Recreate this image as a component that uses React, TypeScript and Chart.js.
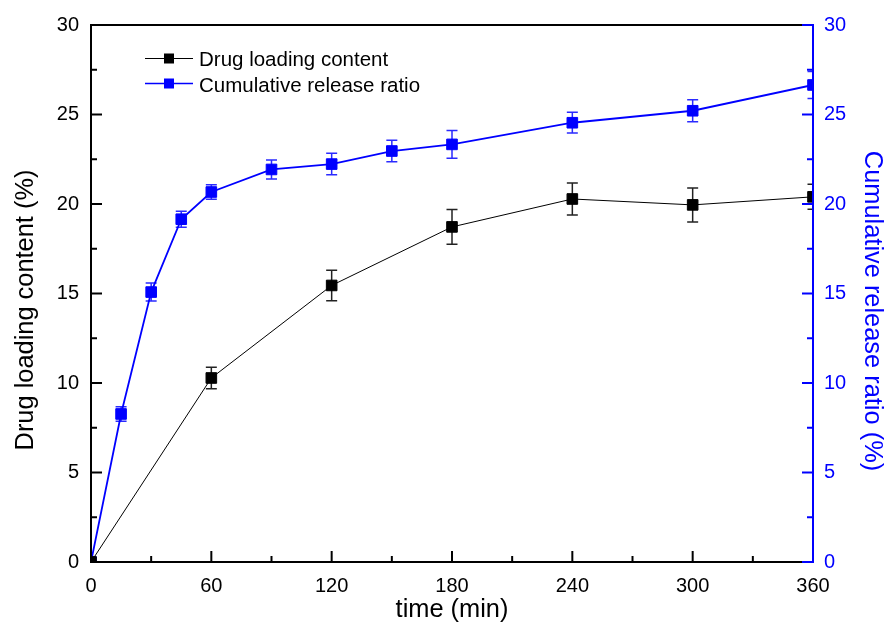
import React, { useEffect, useRef } from "react";
import { Chart, registerables } from "chart.js";

Chart.register(...registerables);

// ---- data ----
const timeDrug = [0, 60, 120, 180, 240, 300, 360];
const drugLoading = [0, 10.28, 15.45, 18.72, 20.28, 19.95, 20.4];
const drugLoadingErr = [0, 0.6, 0.85, 0.97, 0.9, 0.95, 0.7];

const timeRelease = [0, 15, 30, 45, 60, 90, 120, 150, 180, 240, 300, 360];
const releaseRatio = [0, 8.27, 15.08, 19.15, 20.67, 21.93, 22.23, 22.96, 23.33, 24.54, 25.21, 26.65];
const releaseErr = [0, 0.4, 0.5, 0.45, 0.4, 0.53, 0.6, 0.6, 0.77, 0.58, 0.62, 0.75];

const xTickValues = [0, 60, 120, 180, 240, 300, 360];
const xMinorValues = [30, 90, 150, 210, 270, 330];
const yTickValues = [0, 5, 10, 15, 20, 25, 30];
const yMinorValues = [2.5, 7.5, 12.5, 17.5, 22.5, 27.5];

const seriesNames = ["Drug loading content", "Cumulative release ratio"];
const xTitle = "time (min)";
const yTitle = "Drug loading content (%)";
const y1Title = "Cumulative release ratio (%)";

const FONT = "Arial, 'Liberation Sans', sans-serif";
const BLACK = "#000000";
const BLUE = "#0000ff";

const errors: Record<number, number[]> = { 0: drugLoadingErr, 1: releaseErr };

const errorBarPlugin = {
  id: "errorBars",
  beforeDatasetsDraw(chart: any) {
    const ctx = chart.ctx;
    const area = chart.chartArea;
    ctx.save();
    ctx.beginPath();
    ctx.rect(area.left, area.top - 20, area.right - area.left, area.bottom - area.top + 20);
    ctx.clip();
    chart.data.datasets.forEach((ds: any, i: number) => {
      const meta = chart.getDatasetMeta(i);
      const yScale = chart.scales[ds.yAxisID];
      const errs = errors[i];
      ctx.strokeStyle = ds.errorColor;
      ctx.lineWidth = 1.5;
      meta.data.forEach((el: any, j: number) => {
        const e = errs[j];
        if (!e) return;
        const v = ds.data[j].y;
        const top = yScale.getPixelForValue(v + e);
        const bot = yScale.getPixelForValue(v - e);
        const x = el.x;
        const hw = 5.5;
        ctx.beginPath();
        ctx.moveTo(x, top);
        ctx.lineTo(x, bot);
        ctx.moveTo(x - hw, top);
        ctx.lineTo(x + hw, top);
        ctx.moveTo(x - hw, bot);
        ctx.lineTo(x + hw, bot);
        ctx.stroke();
      });
    });
    ctx.restore();
  },
};

const framePlugin = {
  id: "frame",
  afterDraw(chart: any) {
    const ctx = chart.ctx;
    const { left, right, top, bottom } = chart.chartArea;
    const xs = chart.scales.x;
    const ys = chart.scales.y;
    const y1 = chart.scales.y1;
    ctx.save();
    ctx.lineCap = "butt";
    // frame
    ctx.lineWidth = 2;
    ctx.strokeStyle = BLACK;
    ctx.beginPath();
    ctx.moveTo(right, top);
    ctx.lineTo(left, top);
    ctx.lineTo(left, bottom);
    ctx.lineTo(right, bottom);
    ctx.stroke();
    // x ticks (inward, bottom)
    ctx.lineWidth = 2;
    xTickValues.forEach((v) => {
      const px = xs.getPixelForValue(v);
      ctx.beginPath();
      ctx.moveTo(px, bottom);
      ctx.lineTo(px, bottom - 11);
      ctx.stroke();
    });
    xMinorValues.forEach((v) => {
      const px = xs.getPixelForValue(v);
      ctx.beginPath();
      ctx.moveTo(px, bottom);
      ctx.lineTo(px, bottom - 6);
      ctx.stroke();
    });
    // left y ticks
    yTickValues.forEach((v) => {
      const py = ys.getPixelForValue(v);
      ctx.beginPath();
      ctx.moveTo(left, py);
      ctx.lineTo(left + 11, py);
      ctx.stroke();
    });
    yMinorValues.forEach((v) => {
      const py = ys.getPixelForValue(v);
      ctx.beginPath();
      ctx.moveTo(left, py);
      ctx.lineTo(left + 6, py);
      ctx.stroke();
    });
    // right axis (blue)
    ctx.strokeStyle = BLUE;
    ctx.beginPath();
    ctx.moveTo(right, top - 1);
    ctx.lineTo(right, bottom + 1);
    ctx.stroke();
    yTickValues.forEach((v) => {
      const py = y1.getPixelForValue(v);
      ctx.beginPath();
      ctx.moveTo(right, py);
      ctx.lineTo(right - 11, py);
      ctx.stroke();
    });
    yMinorValues.forEach((v) => {
      const py = y1.getPixelForValue(v);
      ctx.beginPath();
      ctx.moveTo(right, py);
      ctx.lineTo(right - 6, py);
      ctx.stroke();
    });

    // axis titles
    ctx.font = `25.4px ${FONT}`;
    ctx.textBaseline = "alphabetic";
    ctx.fillStyle = BLACK;
    ctx.textAlign = "center";
    ctx.fillText(xTitle, (left + right) / 2, 617);

    ctx.save();
    ctx.translate(33, 310);
    ctx.rotate(-Math.PI / 2);
    ctx.fillText(yTitle, 0, 0);
    ctx.restore();

    ctx.save();
    ctx.fillStyle = BLUE;
    ctx.translate(865, 311);
    ctx.rotate(Math.PI / 2);
    ctx.fillText(y1Title, 0, 0);
    ctx.restore();

    // legend
    const rows = [
      { name: seriesNames[0], color: BLACK, lw: 1, y: 58.5, base: 66 },
      { name: seriesNames[1], color: BLUE, lw: 1.5, y: 83.5, base: 91.5 },
    ];
    rows.forEach((r) => {
      ctx.strokeStyle = r.color;
      ctx.lineWidth = r.lw;
      ctx.beginPath();
      ctx.moveTo(145, r.y);
      ctx.lineTo(193, r.y);
      ctx.stroke();
      ctx.fillStyle = r.color;
      ctx.fillRect(169 - 5, r.y - 5, 10, 10);
      ctx.fillStyle = BLACK;
      ctx.textAlign = "left";
      ctx.font = `20.5px ${FONT}`;
      ctx.fillText(r.name, 199, r.base);
    });
    ctx.restore();
  },
};

export default function App() {
  const ref = useRef<HTMLCanvasElement | null>(null);

  useEffect(() => {
    if (!ref.current) return;
    const chart = new Chart(ref.current, {
      type: "line",
      data: {
        datasets: [
          {
            label: seriesNames[0],
            data: timeDrug.map((t, i) => ({ x: t, y: drugLoading[i] })),
            yAxisID: "y",
            borderColor: BLACK,
            backgroundColor: BLACK,
            borderWidth: 1,
            pointStyle: "rect",
            pointRadius: 7.5,
            pointBorderWidth: 1,
            pointBorderColor: BLACK,
            pointBackgroundColor: BLACK,
            tension: 0,
            clip: 0,
            errorColor: "#222222",
          } as any,
          {
            label: seriesNames[1],
            data: timeRelease.map((t, i) => ({ x: t, y: releaseRatio[i] })),
            yAxisID: "y1",
            borderColor: BLUE,
            backgroundColor: BLUE,
            borderWidth: 1.8,
            pointStyle: "rect",
            pointRadius: 7.5,
            pointBorderWidth: 1,
            pointBorderColor: BLUE,
            pointBackgroundColor: BLUE,
            tension: 0,
            clip: 0,
            errorColor: "#2a2aff",
          } as any,
        ],
      },
      options: {
        animation: false,
        responsive: true,
        maintainAspectRatio: false,
        layout: { padding: { top: 25, left: 0, right: 0, bottom: 0 } },
        plugins: {
          legend: { display: false },
          tooltip: { enabled: false },
          title: { display: false },
        },
        scales: {
          x: {
            type: "linear",
            min: 0,
            max: 360,
            afterBuildTicks: (s: any) => {
              s.ticks = xTickValues.map((v) => ({ value: v }));
            },
            ticks: {
              color: BLACK,
              font: { family: FONT, size: 20 },
              padding: 12,
              maxRotation: 0,
            },
            grid: { display: false, drawTicks: false },
            border: { display: false },
            afterFit: (s: any) => {
              s.height = 68;
            },
          },
          y: {
            type: "linear",
            position: "left",
            min: 0,
            max: 30,
            afterBuildTicks: (s: any) => {
              s.ticks = yTickValues.map((v) => ({ value: v }));
            },
            ticks: {
              color: BLACK,
              font: { family: FONT, size: 20 },
              padding: 12,
            },
            grid: { display: false, drawTicks: false },
            border: { display: false },
            afterFit: (s: any) => {
              s.width = 91;
            },
          },
          y1: {
            type: "linear",
            position: "right",
            min: 0,
            max: 30,
            afterBuildTicks: (s: any) => {
              s.ticks = yTickValues.map((v) => ({ value: v }));
            },
            ticks: {
              color: BLUE,
              font: { family: FONT, size: 20 },
              padding: 11,
            },
            grid: { display: false, drawTicks: false },
            border: { display: false },
            afterFit: (s: any) => {
              s.width = 74;
            },
          },
        },
      } as any,
      plugins: [errorBarPlugin, framePlugin],
    });
    return () => chart.destroy();
  }, []);

  return (
    <div style={{ position: "fixed", left: 0, top: 0, width: 887, height: 630, background: "#fff" }}>
      <canvas ref={ref} />
    </div>
  );
}
